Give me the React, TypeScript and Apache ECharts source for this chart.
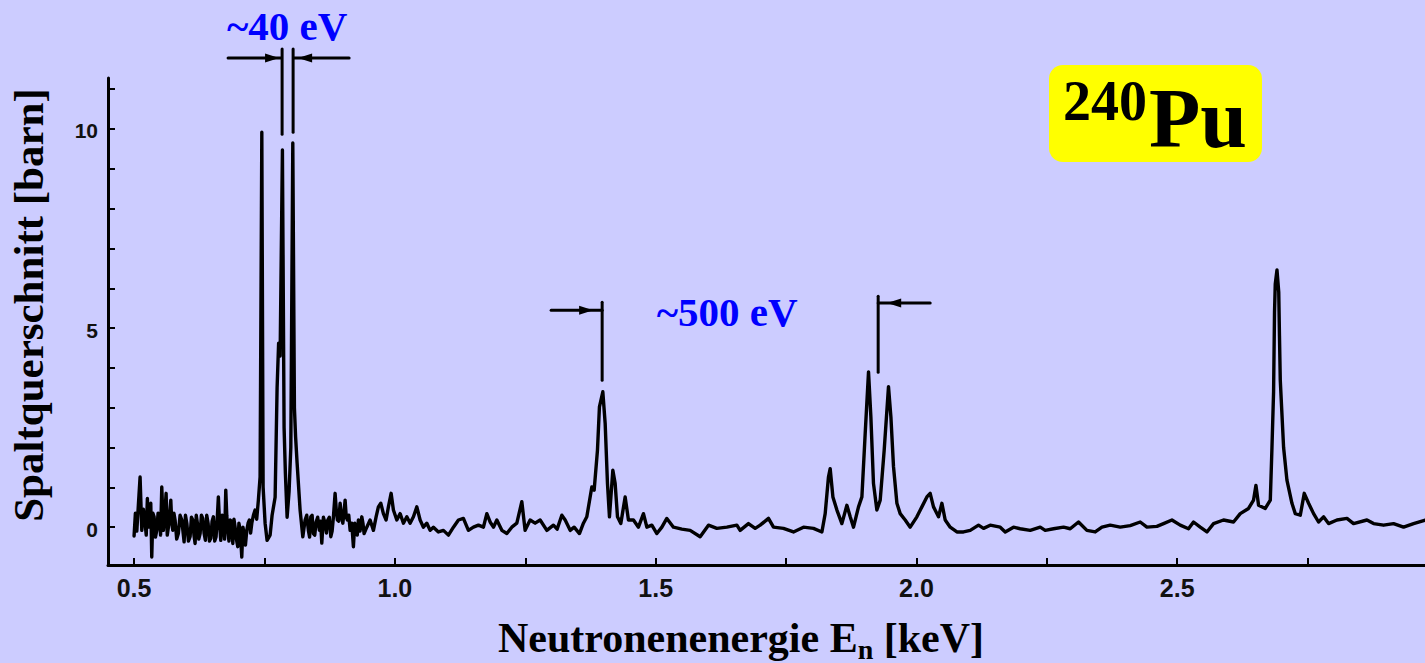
import React, { useEffect, useRef } from "react";
import * as echarts from "echarts";

// Measured trace as [neutron energy E_n in keV, fission cross section in barn]
// 0.50 – 0.74 keV: noisy low-energy part
const traceLow = [
  [0.5000, -0.22], [0.5025, 0.35], [0.5052, -0.10], [0.5082, 0.55], [0.5115, 1.26],
  [0.5148, -0.08], [0.5178, 0.45], [0.5211, 0.10], [0.5233, -0.20], [0.5255, 0.72],
  [0.5274, 0.00], [0.5293, 0.20], [0.5320, 0.60], [0.5339, -0.75], [0.5361, 0.35],
  [0.5384, 0.26], [0.5410, -0.25], [0.5435, -0.08], [0.5460, 0.35], [0.5485, 0.26],
  [0.5508, -0.20], [0.5531, 1.01], [0.5562, -0.08], [0.5588, 0.30], [0.5614, 0.85],
  [0.5636, -0.20], [0.5658, 0.00], [0.5681, 0.30], [0.5704, 0.68], [0.5723, 0.10],
  [0.5742, -0.08], [0.5764, 0.35], [0.5786, 0.18], [0.5817, -0.30], [0.5849, -0.16],
  [0.5882, 0.30], [0.5915, 0.18], [0.5937, -0.10], [0.5959, -0.37], [0.5985, 0.30],
  [0.6011, 0.10], [0.6042, -0.35], [0.6074, -0.24], [0.6100, 0.25], [0.6126, 0.18],
  [0.6148, -0.20], [0.6170, -0.41], [0.6192, 0.30], [0.6214, 0.10], [0.6240, -0.30],
  [0.6266, -0.16], [0.6291, 0.30], [0.6317, 0.22], [0.6342, -0.15], [0.6367, -0.33],
  [0.6393, 0.30], [0.6419, 0.10], [0.6445, -0.35], [0.6471, -0.28], [0.6496, 0.15],
  [0.6521, 0.26], [0.6546, -0.35], [0.6572, -0.24], [0.6594, 0.20], [0.6616, 0.76],
  [0.6639, 0.10], [0.6662, -0.33], [0.6687, 0.30], [0.6712, 0.18], [0.6735, -0.30],
  [0.6758, 0.93], [0.6777, 0.30], [0.6797, -0.08], [0.6819, -0.35], [0.6841, 0.18],
  [0.6867, 0.15], [0.6893, -0.41], [0.6915, 0.20], [0.6937, 0.00], [0.6962, -0.30],
  [0.6988, -0.49], [0.7010, 0.10], [0.7033, -0.08], [0.7049, -0.40], [0.7065, -0.75],
  [0.7087, 0.00], [0.7109, -0.16], [0.7135, -0.45], [0.7161, -0.08], [0.7186, 0.10],
  [0.7211, 0.18], [0.7234, -0.15], [0.7257, 0.10], [0.7288, 0.30], [0.7320, 0.43],
  [0.7351, 0.20], [0.7383, 0.68],
];

// 0.74 – 0.82 keV: the narrow resonance triplet
const traceTriplet = [
  [0.7416, 1.26], [0.7449, 9.92], [0.7474, 1.00], [0.7512, 0.10], [0.7550, -0.33],
  [0.7608, -0.20], [0.7646, 0.30], [0.7704, 0.75], [0.7742, 3.50], [0.7771, 4.62],
  [0.7800, 4.30], [0.7844, 9.47], [0.7876, 2.50], [0.7901, 1.35], [0.7934, 0.25],
  [0.7972, 0.90], [0.8005, 2.00], [0.8043, 9.65], [0.8074, 3.00], [0.8097, 2.26],
  [0.8126, 1.60],
];

// 0.82 – 1.37 keV: background between the clusters
const traceMid = [
  [0.8183, 0.43], [0.8235, -0.24], [0.8279, 0.18], [0.8310, 0.30], [0.8342, -0.08],
  [0.8365, -0.25], [0.8388, 0.26], [0.8413, 0.30], [0.8438, -0.16], [0.8464, -0.20],
  [0.8490, 0.13], [0.8520, 0.25], [0.8553, -0.08], [0.8576, 0.15], [0.8599, -0.40],
  [0.8630, 0.25], [0.8662, 0.10], [0.8688, -0.15], [0.8714, 0.18], [0.8743, 0.25],
  [0.8772, -0.24], [0.8797, -0.10], [0.8822, 0.26], [0.8854, 0.85], [0.8876, 0.45],
  [0.8898, 0.18], [0.8924, 0.15], [0.8950, 0.60], [0.8976, 0.30], [0.9002, 0.10],
  [0.9024, 0.35], [0.9046, 0.68], [0.9068, 0.25], [0.9090, 0.18], [0.9116, 0.30],
  [0.9142, -0.08], [0.9173, 0.10], [0.9205, -0.49], [0.9231, 0.10], [0.9257, 0.00],
  [0.9279, -0.20], [0.9301, 0.18], [0.9333, -0.10], [0.9366, 0.26], [0.9388, 0.10],
  [0.9410, -0.16], [0.9462, 0.00], [0.9525, 0.18], [0.9589, -0.08], [0.9640, 0.26],
  [0.9684, 0.51], [0.9730, 0.60], [0.9780, 0.34], [0.9832, 0.18], [0.9876, 0.51],
  [0.9928, 0.85], [0.9972, 0.43], [1.0037, 0.18], [1.0101, 0.34], [1.0164, 0.10],
  [1.0229, 0.26], [1.0292, 0.10], [1.0356, 0.26], [1.0421, 0.51], [1.0484, 0.18],
  [1.0547, 0.00], [1.0613, 0.10], [1.0676, -0.08], [1.0739, 0.00], [1.0835, -0.12],
  [1.0931, -0.08], [1.1027, -0.20], [1.1123, 0.00], [1.1219, 0.18], [1.1314, 0.22],
  [1.1410, -0.08], [1.1506, 0.00], [1.1602, 0.05], [1.1698, 0.00], [1.1763, 0.34],
  [1.1826, 0.13], [1.1890, 0.00], [1.1955, 0.18], [1.2051, -0.08], [1.2147, -0.16],
  [1.2242, 0.00], [1.2338, 0.10], [1.2434, 0.64], [1.2497, -0.08], [1.2593, 0.18],
  [1.2689, 0.10], [1.2785, 0.18], [1.2914, -0.08], [1.3040, 0.05], [1.3111, -0.05],
  [1.3201, 0.30], [1.3265, 0.18], [1.3361, -0.08], [1.3437, 0.00], [1.3539, -0.16],
  [1.3615, 0.10], [1.3680, 0.26],
];

// 1.37 – 2.07 keV: resonances near 1.4 keV and 1.83 – 2.05 keV
const traceClusters = [
  [1.3776, 1.01], [1.3821, 0.93], [1.3884, 1.93], [1.3922, 3.02], [1.3987, 3.40],
  [1.4032, 2.60], [1.4076, 1.10], [1.4114, 0.26], [1.4179, 1.43], [1.4223, 1.10],
  [1.4268, 0.26], [1.4332, 0.09], [1.4415, 0.76], [1.4478, 0.18], [1.4574, 0.18],
  [1.4670, 0.00], [1.4766, 0.34], [1.4831, 0.00], [1.4927, 0.05], [1.5023, -0.16],
  [1.5119, 0.00], [1.5214, 0.22], [1.5341, 0.00], [1.5502, -0.05], [1.5661, -0.08],
  [1.5853, -0.24], [1.6012, 0.05], [1.6173, -0.03], [1.6365, 0.00], [1.6557, 0.05],
  [1.6620, -0.08], [1.6779, 0.09], [1.6908, -0.03], [1.7004, 0.05], [1.7163, 0.22],
  [1.7259, 0.00], [1.7450, -0.03], [1.7642, -0.12], [1.7834, 0.00], [1.8026, -0.03],
  [1.8187, -0.12], [1.8250, 0.34], [1.8313, 1.26], [1.8346, 1.47], [1.8398, 0.76],
  [1.8475, 0.43], [1.8570, 0.09], [1.8666, 0.55], [1.8730, 0.26], [1.8793, 0.00],
  [1.8889, 0.51], [1.8954, 0.76], [1.9017, 2.35], [1.9081, 3.90], [1.9126, 2.77],
  [1.9176, 1.10], [1.9241, 0.43], [1.9305, 0.68], [1.9381, 1.93], [1.9464, 3.53],
  [1.9510, 2.77], [1.9560, 1.52], [1.9625, 0.60], [1.9688, 0.34], [1.9784, 0.18],
  [1.9880, 0.00], [2.0008, 0.26], [2.0104, 0.51], [2.0200, 0.76], [2.0263, 0.85],
  [2.0327, 0.51], [2.0423, 0.26], [2.0488, 0.60], [2.0551, 0.18], [2.0647, 0.00],
];

// 2.07 – 2.98 keV: quiet stretch and the 2.69 keV resonance
const traceHigh = [
  [2.0775, -0.12], [2.0902, -0.12], [2.1031, -0.08], [2.1190, 0.05], [2.1286, -0.03],
  [2.1414, 0.05], [2.1606, 0.00], [2.1702, -0.12], [2.1861, 0.00], [2.1989, -0.04],
  [2.2181, -0.08], [2.2373, 0.00], [2.2468, -0.08], [2.2628, -0.04], [2.2820, 0.00],
  [2.2948, -0.04], [2.3107, 0.13], [2.3268, -0.08], [2.3427, -0.12], [2.3556, 0.00],
  [2.3715, 0.05], [2.3907, 0.00], [2.4098, 0.04], [2.4290, 0.13], [2.4419, 0.00],
  [2.4610, 0.02], [2.4737, 0.09], [2.4898, 0.18], [2.5057, 0.05], [2.5216, -0.04],
  [2.5312, 0.13], [2.5441, 0.00], [2.5569, -0.12], [2.5696, 0.09], [2.5887, 0.18],
  [2.6079, 0.13], [2.6208, 0.34], [2.6367, 0.47], [2.6463, 0.68], [2.6509, 1.05],
  [2.6559, 0.55], [2.6688, 0.47], [2.6784, 0.68], [2.6816, 2.00], [2.6847, 3.40],
  [2.6865, 5.40], [2.6879, 6.10], [2.6912, 6.46], [2.6946, 5.90], [2.6960, 4.80],
  [2.6975, 3.70], [2.7039, 2.00], [2.7103, 1.18], [2.7199, 0.60], [2.7263, 0.34],
  [2.7359, 0.30], [2.7435, 0.85], [2.7518, 0.60], [2.7614, 0.34], [2.7709, 0.13],
  [2.7805, 0.26], [2.7901, 0.09], [2.8062, 0.18], [2.8254, 0.22], [2.8380, 0.09],
  [2.8637, 0.18], [2.8764, 0.09], [2.8956, 0.05], [2.9147, 0.09], [2.9339, 0.00],
  [2.9531, 0.09], [2.9756, 0.18],
];

// Axis ticks and labels
const xTickValues = [0.5, 0.75, 1.0, 1.25, 1.5, 1.75, 2.0, 2.25, 2.5, 2.75];
const xLabelValues = [0.5, 1.0, 1.5, 2.0, 2.5];
const yTickValues = [0, 1, 2, 3, 4, 5, 6, 7, 8, 9, 10, 11];
const yLabelValues = [0, 5, 10];

const SERIF = '"Liberation Serif", "Times New Roman", serif';
const SANS = '"Liberation Sans", Arial, sans-serif';
const INK = "#000000";
const BLUE = "#0000ff";

type Pt = number[];

function textWidth(text: string, font: string): number {
  const ctx = document.createElement("canvas").getContext("2d");
  if (!ctx) return text.length * 20;
  ctx.font = font;
  return ctx.measureText(text).width;
}

function buildAnnotations(chart: echarts.ECharts) {
  const p = (e: number, s: number): Pt =>
    chart.convertToPixel({ gridIndex: 0 }, [e, s]) as number[];

  const seg = (a: Pt, b: Pt) => ({
    type: "line",
    silent: true,
    shape: { x1: a[0], y1: a[1], x2: b[0], y2: b[1] },
    style: { stroke: INK, lineWidth: 3, lineCap: "round" },
  });
  // filled arrow head whose tip sits at `tip`, pointing right (dir=1) or left (dir=-1)
  const head = (tip: Pt, dir: number) => ({
    type: "polygon",
    silent: true,
    shape: {
      points: [
        [tip[0], tip[1]],
        [tip[0] - dir * 14, tip[1] - 4.5],
        [tip[0] - dir * 14, tip[1] + 4.5],
      ],
    },
    style: { fill: INK },
  });
  const label = (text: string, c: Pt) => ({
    type: "text",
    silent: true,
    x: c[0],
    y: c[1],
    style: {
      text,
      fill: BLUE,
      font: `bold 41px ${SERIF}`,
      align: "center",
      verticalAlign: "middle",
    },
  });

  const els: any[] = [];

  // tick labels of both axes, placed at their axis values
  const axisY0 = p(xLabelValues[0], -0.95)[1];
  xLabelValues.forEach((v) => {
    els.push({
      type: "text",
      silent: true,
      x: p(v, 0)[0],
      y: axisY0 + 23,
      style: {
        text: v.toFixed(1),
        fill: "#111111",
        font: `bold 25px ${SANS}`,
        align: "center",
        verticalAlign: "middle",
      },
    });
  });
  const axisX0 = p(0.45, 0)[0];
  yLabelValues.forEach((v) => {
    els.push({
      type: "text",
      silent: true,
      x: axisX0 - 10,
      y: p(0.5, v)[1] + 2,
      style: {
        text: String(v),
        fill: "#111111",
        font: `bold 21px ${SANS}`,
        align: "right",
        verticalAlign: "middle",
      },
    });
  });

  // ~40 eV spacing of the doublet
  els.push(label("~40 eV", p(0.7934, 12.58)));
  els.push(seg(p(0.7838, 12.01), p(0.7838, 9.87)));
  els.push(seg(p(0.8049, 12.01), p(0.8049, 9.92)));
  els.push(seg(p(0.6802, 11.78), p(0.7819, 11.78)));
  els.push(head(p(0.778, 11.78), 1));
  els.push(seg(p(0.9123, 11.78), p(0.8068, 11.78)));
  els.push(head(p(0.8145, 11.78), -1));

  // ~500 eV spacing between the resonance clusters
  els.push(label("~500 eV", p(1.6371, 5.4)));
  els.push(seg(p(1.3974, 5.65), p(1.3974, 3.69)));
  els.push(seg(p(1.2996, 5.45), p(1.3974, 5.45)));
  els.push(head(p(1.3801, 5.45), 1));
  els.push(seg(p(1.9266, 5.8), p(1.9266, 3.89)));
  els.push(seg(p(2.0263, 5.63), p(1.9266, 5.63)));
  els.push(head(p(1.9439, 5.63), -1));

  // nuclide badge
  els.push({
    type: "rect",
    silent: true,
    shape: { x: 1049, y: 65, width: 213, height: 97, r: 14 },
    style: { fill: "#ffff00" },
  });
  els.push({
    type: "text",
    silent: true,
    x: 1063,
    y: 101,
    style: { text: "240", fill: INK, font: `bold 56px ${SERIF}`, align: "left", verticalAlign: "middle" },
  });
  els.push({
    type: "text",
    silent: true,
    x: 1149,
    y: 118,
    style: { text: "Pu", fill: INK, font: `bold 84px ${SERIF}`, align: "left", verticalAlign: "middle" },
  });

  // x-axis title with subscript n
  const mainFont = `bold 42px ${SERIF}`;
  const subFont = `bold 28px ${SERIF}`;
  const parts = [
    { text: "Neutronenenergie E", font: mainFont, dy: 0 },
    { text: "n", font: subFont, dy: 11 },
    { text: " [keV]", font: mainFont, dy: 0 },
  ];
  const widths = parts.map((t) => textWidth(t.text, t.font));
  const total = widths.reduce((a, b) => a + b, 0);
  let x = 741 - total / 2;
  parts.forEach((t, i) => {
    els.push({
      type: "text",
      silent: true,
      x,
      y: 638 + t.dy,
      style: { text: t.text, fill: INK, font: t.font, align: "left", verticalAlign: "middle" },
    });
    x += widths[i];
  });

  return els;
}

export default function App() {
  const ref = useRef<HTMLDivElement>(null);

  useEffect(() => {
    const el = ref.current;
    if (!el) return;
    const chart = echarts.init(el, null, { renderer: "svg" });

    const data = [...traceLow, ...traceTriplet, ...traceMid, ...traceClusters, ...traceHigh];

    chart.setOption({
      animation: false,
      backgroundColor: "#ccccff",
      grid: { left: 108, right: 0, top: 78, bottom: 98, containLabel: false, outerBoundsMode: "none" },
      xAxis: {
        type: "value",
        min: 0.45,
        max: 2.975,
        axisLine: { show: true, onZero: false, lineStyle: { color: INK, width: 3 } },
        axisTick: { show: true, inside: true, length: 7, customValues: xTickValues, lineStyle: { color: INK, width: 2 } },
        axisLabel: { show: false },
        splitLine: { show: false },
      },
      yAxis: {
        type: "value",
        min: -0.95,
        max: 11.28,
        axisLine: { show: true, onZero: false, lineStyle: { color: INK, width: 3 } },
        axisTick: { show: true, inside: true, length: 7, customValues: yTickValues, lineStyle: { color: INK, width: 2 } },
        axisLabel: { show: false },
        splitLine: { show: false },
        name: "Spaltquerschnitt [barn]",
        nameLocation: "middle",
        nameRotate: 90,
        nameGap: 58,
        nameTextStyle: {
          fontFamily: SERIF,
          fontSize: 43,
          fontWeight: "bold",
          color: INK,
          lineHeight: 43,
          padding: [0, 0, 0, 33],
        },
      },
      series: [
        {
          type: "line",
          data,
          showSymbol: false,
          symbol: "none",
          silent: true,
          clip: true,
          lineStyle: { color: INK, width: 3.4, join: "round", cap: "round" },
        },
      ],
    });

    chart.setOption({ graphic: buildAnnotations(chart) });

    return () => chart.dispose();
  }, []);

  return (
    <div
      ref={ref}
      style={{ position: "fixed", left: 0, top: 0, width: 1425, height: 663 }}
    />
  );
}
